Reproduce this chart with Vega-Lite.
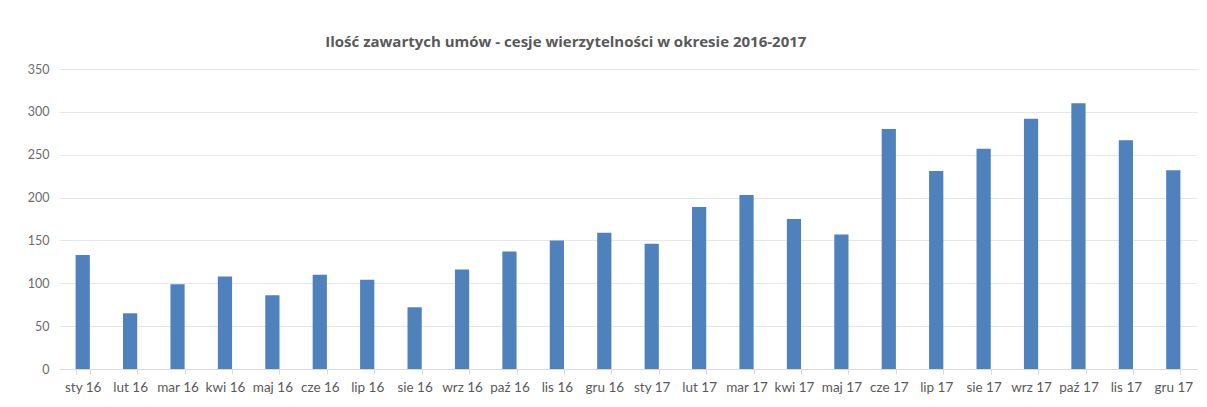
{
  "$schema": "https://vega.github.io/schema/vega-lite/v6.json",
  "width": 1138,
  "height": 300,
  "autosize": "none",
  "padding": {"left": 59, "top": 69, "right": 10, "bottom": 38},
  "background": "white",
  "title": {
    "text": "Ilość zawartych umów - cesje wierzytelności w okresie 2016-2017",
    "anchor": "start",
    "dx": 298,
    "offset": 13,
    "fontSize": 15,
    "fontWeight": "bold",
    "font": "Open Sans",
    "color": "#595959"
  },
  "data": {
    "values": [
      {"m": "sty 16", "v": 133},
      {"m": "lut 16", "v": 65},
      {"m": "mar 16", "v": 99},
      {"m": "kwi 16", "v": 108},
      {"m": "maj 16", "v": 86},
      {"m": "cze 16", "v": 110},
      {"m": "lip 16", "v": 104},
      {"m": "sie 16", "v": 72},
      {"m": "wrz 16", "v": 116},
      {"m": "paź 16", "v": 137},
      {"m": "lis 16", "v": 150},
      {"m": "gru 16", "v": 159},
      {"m": "sty 17", "v": 146},
      {"m": "lut 17", "v": 189},
      {"m": "mar 17", "v": 203},
      {"m": "kwi 17", "v": 175},
      {"m": "maj 17", "v": 157},
      {"m": "cze 17", "v": 280},
      {"m": "lip 17", "v": 231},
      {"m": "sie 17", "v": 257},
      {"m": "wrz 17", "v": 292},
      {"m": "paź 17", "v": 310},
      {"m": "lis 17", "v": 267},
      {"m": "gru 17", "v": 232}
    ]
  },
  "mark": {"type": "bar", "color": "#4f81bd"},
  "encoding": {
    "x": {
      "field": "m",
      "type": "nominal",
      "sort": null,
      "scale": {"paddingInner": 0.7, "paddingOuter": 0.35},
      "axis": {
        "title": null,
        "labelAngle": 0,
        "labelFont": "Lato",
        "labelFontSize": 13.5,
        "labelColor": "#595959",
        "labelPadding": 6,
        "domainColor": "#d9d9d9",
        "tickColor": "#d9d9d9",
        "tickSize": 5,
        "tickBand": "extent"
      }
    },
    "y": {
      "field": "v",
      "type": "quantitative",
      "scale": {"domain": [0, 350]},
      "axis": {
        "title": null,
        "values": [0, 50, 100, 150, 200, 250, 300, 350],
        "labelFont": "Lato",
        "labelFontSize": 12.5,
        "labelColor": "#6b6b6b",
        "labelPadding": 10,
        "domain": false,
        "ticks": false,
        "gridColor": "#e6e6e6"
      }
    }
  },
  "config": {"view": {"stroke": null}}
}
